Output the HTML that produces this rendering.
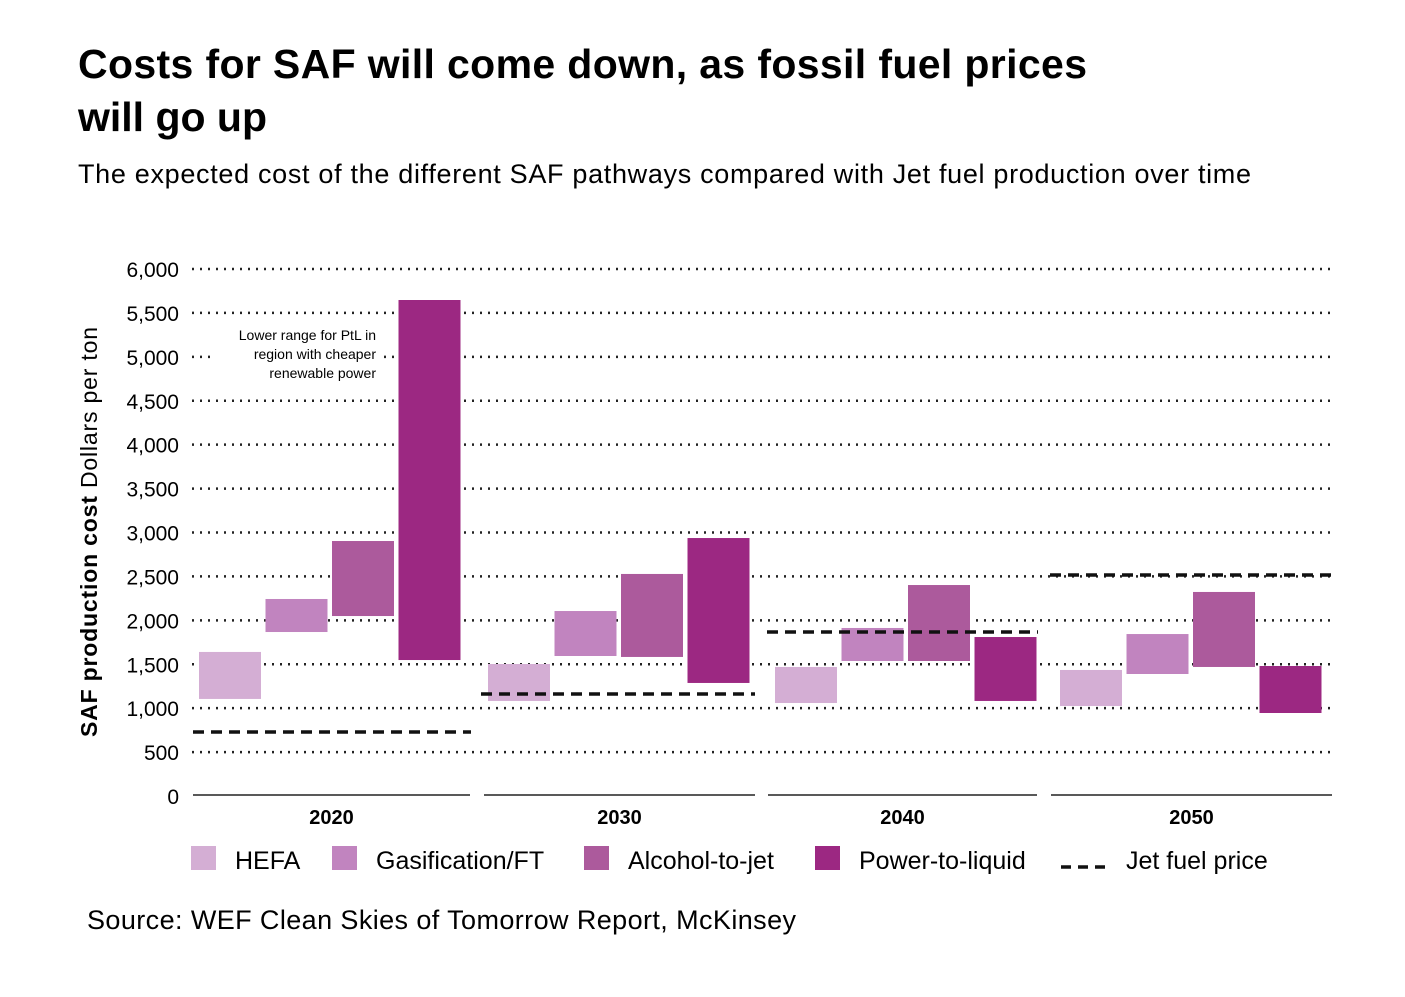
<!DOCTYPE html>
<html><head><meta charset="utf-8"><style>
body{margin:0;background:#fff;width:1405px;height:992px;overflow:hidden;font-family:"Liberation Sans",sans-serif}
</style></head><body>
<svg width="1405" height="992">
<text x="78" y="78" font-size="41" font-weight="bold" textLength="1009">Costs for SAF will come down, as fossil fuel prices</text>
<text x="78" y="131" font-size="41" font-weight="bold">will go up</text>
<text x="78" y="183" font-size="27" textLength="1173">The expected cost of the different SAF pathways compared with Jet fuel production over time</text>
<g id="grid"></g><g id="bars"></g>
<text transform="translate(97,532) rotate(-90)" text-anchor="middle" font-size="23" textLength="410"><tspan font-weight="bold">SAF production cost</tspan>  Dollars per ton</text>
<rect x="214" y="322" width="168" height="62" fill="#fff"/>
<text x="376" y="340" text-anchor="end" font-size="14">Lower range for PtL in</text>
<text x="376" y="359" text-anchor="end" font-size="14">region with cheaper</text>
<text x="376" y="378" text-anchor="end" font-size="14">renewable power</text>
<g id="legend"></g>
<text x="87" y="929" font-size="27" textLength="709">Source: WEF Clean Skies of Tomorrow Report, McKinsey</text>
</svg>
<script>
const years=["2020","2030","2040","2050"];
const series=["HEFA","Gasification/FT","Alcohol-to-jet","Power-to-liquid"];
const lows=[[1105,1867,2049,1548],[1082,1594,1583,1287],[1059,1537,1537,1082],[1025,1389,1469,945]];
const highs=[[1640,2243,2903,5647],[1503,2106,2528,2937],[1469,1913,2402,1810],[1435,1844,2323,1480]];
const jet=[729,1161,1867,2516];
const ticks=[0,500,1000,1500,2000,2500,3000,3500,4000,4500,5000,5500,6000];
const colors=["#d4aed4","#c184bf","#ac5a9c","#9c2882"];
const groupStart=[193,484,768,1051];
const groupEnd=[470,755,1037,1332];
const barStart=[199,488,775,1060];
const jetStart=[193,481,767,1050];
const jetEnd=[471,755,1038,1333];
const NS="http://www.w3.org/2000/svg";
const y=v=>796-v*527/6000;
function mk(t,a,p){const e=document.createElementNS(NS,t);for(const k in a)e.setAttribute(k,a[k]);p.appendChild(e);return e;}
const grid=document.getElementById('grid'),bars=document.getElementById('bars'),leg=document.getElementById('legend');
ticks.forEach(t=>{
  const tx=mk('text',{x:179,y:y(t)+8,'text-anchor':'end','font-size':21},grid);tx.textContent=t.toLocaleString('en-US');
  
  
  if(t>0){const l=mk('line',{x1:192,x2:1335,y1:y(t),y2:y(t),stroke:'#222','stroke-width':2.5,'stroke-dasharray':'2 6'},grid);
  
  }
});
years.forEach((yr,i)=>{
  const x0=groupStart[i];
  const base=mk('line',{x1:x0,x2:groupEnd[i],y1:795,y2:795,stroke:'#222','stroke-width':1.5},bars);
  
  
  const lb=mk('text',{x:(x0+groupEnd[i])/2,y:824,'text-anchor':'middle','font-size':20,'font-weight':'bold'},bars);lb.textContent=yr;
  
  
  series.forEach((s,j)=>{
    const r=mk('rect',{x:barStart[i]+j*66.5,width:62,y:y(highs[i][j]),height:y(lows[i][j])-y(highs[i][j]),fill:colors[j]},bars);
    
    
  });
  const jl=mk('line',{x1:jetStart[i],x2:jetEnd[i],y1:y(jet[i]),y2:y(jet[i]),stroke:'#111','stroke-width':3.5,'stroke-dasharray':'11 7'},bars);
  
  
});
const lx=[191,332,584,815];
series.forEach((s,j)=>{
  const r=mk('rect',{x:lx[j],y:846,width:25,height:24,fill:colors[j]},leg);
  
  
  const t=mk('text',{x:lx[j]+44,y:869,'font-size':25},leg);t.textContent=s;
  
  
});
const jl=mk('line',{x1:1061,x2:1108,y1:867,y2:867,stroke:'#111','stroke-width':3.5,'stroke-dasharray':'10 7'},leg);


const jt=mk('text',{x:1126,y:869,'font-size':25},leg);jt.textContent='Jet fuel price';


</script>
</body></html>
